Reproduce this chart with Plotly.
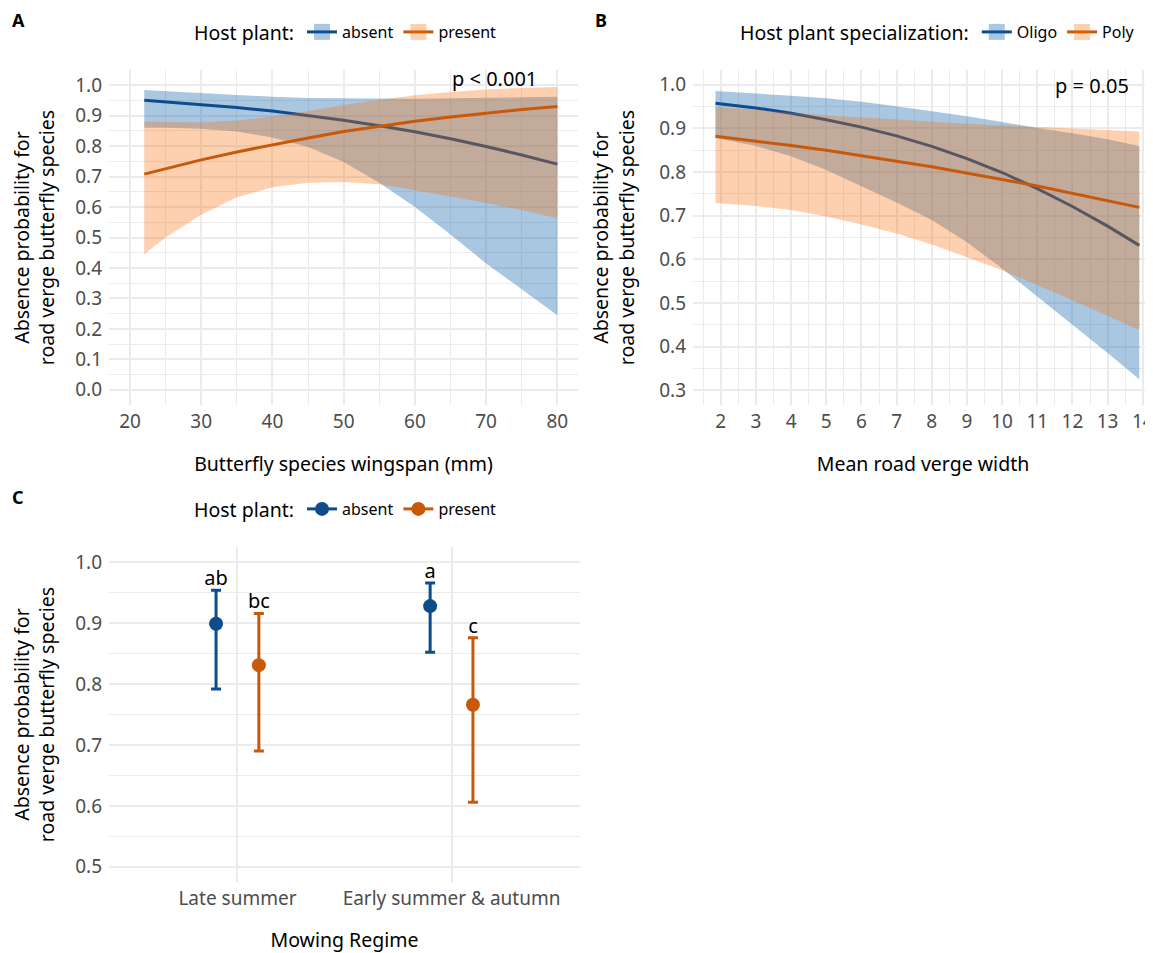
import plotly.graph_objects as go

# ---------------- Panel A: wingspan ----------------
a_x = [22, 25, 30, 35, 40, 45, 50, 55, 60, 65, 70, 75, 80]
absent_fit = [0.951, 0.946, 0.937, 0.927, 0.915, 0.901, 0.885, 0.867, 0.847, 0.824, 0.799, 0.771, 0.741]
absent_hi = [0.984, 0.980, 0.975, 0.968, 0.962, 0.958, 0.957, 0.956, 0.956, 0.957, 0.958, 0.960, 0.962]
absent_lo = [0.860, 0.860, 0.857, 0.848, 0.828, 0.797, 0.748, 0.680, 0.600, 0.510, 0.415, 0.330, 0.245]
present_fit = [0.708, 0.726, 0.755, 0.781, 0.805, 0.827, 0.848, 0.866, 0.882, 0.896, 0.909, 0.920, 0.930]
present_hi = [0.881, 0.879, 0.878, 0.884, 0.897, 0.915, 0.935, 0.952, 0.967, 0.978, 0.986, 0.991, 0.994]
present_lo = [0.445, 0.500, 0.575, 0.632, 0.665, 0.680, 0.682, 0.675, 0.655, 0.635, 0.613, 0.590, 0.563]

# ---------------- Panel B: road verge width ----------------
b_x = [1.85, 3, 4, 5, 6, 7, 8, 9, 10, 11, 12, 13, 13.9]
oligo_fit = [0.958, 0.947, 0.935, 0.920, 0.903, 0.883, 0.859, 0.831, 0.799, 0.762, 0.721, 0.676, 0.632]
oligo_hi = [0.986, 0.981, 0.975, 0.969, 0.961, 0.951, 0.940, 0.928, 0.915, 0.901, 0.889, 0.875, 0.860]
oligo_lo = [0.878, 0.860, 0.836, 0.805, 0.768, 0.730, 0.690, 0.639, 0.579, 0.514, 0.450, 0.385, 0.325]
poly_fit = [0.882, 0.871, 0.861, 0.850, 0.838, 0.825, 0.812, 0.798, 0.783, 0.768, 0.751, 0.734, 0.719]
poly_hi = [0.950, 0.942, 0.936, 0.930, 0.925, 0.920, 0.915, 0.911, 0.907, 0.903, 0.899, 0.896, 0.893]
poly_lo = [0.729, 0.722, 0.713, 0.698, 0.680, 0.659, 0.634, 0.605, 0.575, 0.541, 0.506, 0.471, 0.438]

# ---------------- Panel C: mowing regime ----------------
regimes = ["Late summer", "Early summer & autumn"]
c_absent_est = [0.899, 0.928]
c_absent_low = [0.792, 0.852]
c_absent_up = [0.954, 0.966]
c_absent_letters = ["ab", "a"]
c_present_est = [0.831, 0.766]
c_present_low = [0.690, 0.606]
c_present_up = [0.916, 0.876]
c_present_letters = ["bc", "c"]

A_YTICKS = [0, 0.1, 0.2, 0.3, 0.4, 0.5, 0.6, 0.7, 0.8, 0.9, 1.0]
A_XTICKS = [20, 30, 40, 50, 60, 70, 80]
B_YTICKS = [0.3, 0.4, 0.5, 0.6, 0.7, 0.8, 0.9, 1.0]
B_XTICKS = list(range(2, 15))
C_YTICKS = [0.5, 0.6, 0.7, 0.8, 0.9, 1.0]

# ---------------- styling ----------------
BLUE = "#0C4C8A"
ORANGE = "#C8580A"
BLUE_FILL = "rgba(10,95,165,0.35)"
ORANGE_FILL = "rgba(250,112,10,0.32)"
GRID = "#EBEBEB"
TICK_COL = "#4D4D4D"
FONT = "Noto Sans"
OFF = 8                      # page body margin
W, H = 1153 - OFF, 953 - OFF


def px_x(p):
    return (p - OFF) / W


def px_y(p):
    return 1 - (p - OFF) / H


fig = go.Figure()


def ribbon(x, lo, hi, fill, xa, ya):
    fig.add_trace(go.Scatter(
        x=list(x) + list(x)[::-1], y=list(hi) + list(lo)[::-1],
        fill="toself", fillcolor=fill, mode="lines", line=dict(width=0),
        hoverinfo="skip", showlegend=False, xaxis=xa, yaxis=ya))


def line(x, y, color, xa, ya):
    fig.add_trace(go.Scatter(
        x=x, y=y, mode="lines", line=dict(color=color, width=3),
        hoverinfo="skip", showlegend=False, xaxis=xa, yaxis=ya))


def ribbon_key(name, color, fill, legend):
    fig.add_trace(go.Scatter(
        x=[None], y=[None], mode="lines+markers", name=name,
        line=dict(color=color, width=3),
        marker=dict(symbol="square", size=16, color=fill),
        legend=legend, showlegend=True))


# Panel A
ribbon(a_x, absent_lo, absent_hi, BLUE_FILL, "x", "y")
line(a_x, absent_fit, BLUE, "x", "y")
ribbon(a_x, present_lo, present_hi, ORANGE_FILL, "x", "y")
line(a_x, present_fit, ORANGE, "x", "y")
ribbon_key("absent", BLUE, BLUE_FILL, "legend")
ribbon_key("present", ORANGE, ORANGE_FILL, "legend")

# Panel B
ribbon(b_x, oligo_lo, oligo_hi, BLUE_FILL, "x2", "y2")
line(b_x, oligo_fit, BLUE, "x2", "y2")
ribbon(b_x, poly_lo, poly_hi, ORANGE_FILL, "x2", "y2")
line(b_x, poly_fit, ORANGE, "x2", "y2")
ribbon_key("Oligo", BLUE, BLUE_FILL, "legend2")
ribbon_key("Poly", ORANGE, ORANGE_FILL, "legend2")

# Panel C (dodged point ranges)
DODGE = 0.1
c_pos = [i + 1 for i in range(len(regimes))]
for est, low, up, letters, color, name, off in [
    (c_absent_est, c_absent_low, c_absent_up, c_absent_letters, BLUE, "absent", -DODGE),
    (c_present_est, c_present_low, c_present_up, c_present_letters, ORANGE, "present", DODGE),
]:
    xs = [p + off for p in c_pos]
    fig.add_trace(go.Scatter(
        x=xs, y=est, mode="markers",
        marker=dict(color=color, size=14),
        error_y=dict(type="data", symmetric=False,
                     array=[u - e for u, e in zip(up, est)],
                     arrayminus=[e - l for e, l in zip(est, low)],
                     color=color, thickness=3, width=5),
        hoverinfo="skip", showlegend=False, xaxis="x3", yaxis="y3"))
    fig.add_trace(go.Scatter(
        x=xs, y=up, mode="text", text=letters, textposition="top center",
        textfont=dict(family=FONT, size=20, color="black"),
        hoverinfo="skip", showlegend=False, xaxis="x3", yaxis="y3"))
    fig.add_trace(go.Scatter(
        x=[None], y=[None], mode="lines+markers", name=name,
        line=dict(color=color, width=3),
        marker=dict(color=color, size=14),
        legend="legend3", showlegend=True))

# ---------------- axes ----------------
tickfont = dict(family=FONT, size=19, color=TICK_COL)
titlefont = dict(family=FONT, size=19.5, color="black")


def xaxis_cfg(domain, rng, tickvals, title, anchor, minor_dtick=None, ticktext=None, standoff=24):
    d = dict(domain=domain, range=rng, tickmode="array", tickvals=tickvals,
             showgrid=True, gridcolor=GRID, gridwidth=1.8, zeroline=False,
             showline=False, ticks="", tickfont=tickfont, anchor=anchor,
             ticklabelstandoff=3, ticklabeloverflow="allow", fixedrange=True,
             title=dict(text=title, font=titlefont, standoff=standoff))
    if ticktext is not None:
        d["ticktext"] = ticktext
    if minor_dtick is not None:
        d["minor"] = dict(dtick=minor_dtick, tick0=0, showgrid=True,
                          gridcolor=GRID, gridwidth=0.9, ticks="")
    return d


YTITLE = "Absence probability for<br>road verge butterfly species"


def yaxis_cfg(domain, rng, tickvals, anchor, minor_dtick=0.05):
    return dict(domain=domain, range=rng, tickmode="array", tickvals=tickvals,
                tickformat=".1f", showgrid=True, gridcolor=GRID, gridwidth=1.8,
                zeroline=False, showline=False, ticks="", tickfont=tickfont,
                anchor=anchor, ticklabelstandoff=6, fixedrange=True,
                minor=dict(dtick=minor_dtick, tick0=0, showgrid=True,
                           gridcolor=GRID, gridwidth=0.9, ticks=""),
                title=dict(text=YTITLE, font=titlefont, standoff=19))


top_dom = [px_y(405), px_y(70)]
bot_dom = [px_y(882), px_y(547)]

legend_common = dict(orientation="h", xanchor="center", yanchor="middle",
                     bgcolor="rgba(0,0,0,0)", font=dict(family=FONT, size=16, color="black"),
                     itemwidth=30, tracegroupgap=0)

panel_font = dict(family=FONT, size=18, color="black")
fig.update_layout(
    width=W, height=H,
    margin=dict(l=0, r=0, t=0, b=0),
    paper_bgcolor="white", plot_bgcolor="white",
    font=dict(family=FONT, color="black"),
    xaxis=xaxis_cfg([px_x(109), px_x(578)], [17.05, 82.9], A_XTICKS,
                    "Butterfly species wingspan (mm)", "y", minor_dtick=5),
    yaxis=yaxis_cfg(top_dom, [-0.05, 1.05], A_YTICKS, "x"),
    xaxis2=xaxis_cfg([px_x(693), 1.0], [1.21, 14.29], B_XTICKS,
                     "Mean road verge width", "y2", minor_dtick=0.5),
    yaxis2=yaxis_cfg(top_dom, [0.266, 1.034], B_YTICKS, "x2"),
    xaxis3=xaxis_cfg([px_x(109), px_x(580)], [0.4, 2.6], c_pos,
                     "Mowing Regime", "y3", ticktext=regimes),
    yaxis3=yaxis_cfg(bot_dom, [0.475, 1.025], C_YTICKS, "x3"),
    legend=dict(legend_common, x=px_x(347), y=px_y(33),
                title=dict(text="Host plant:", side="left", font=titlefont)),
    legend2=dict(legend_common, x=px_x(939), y=px_y(33),
                 title=dict(text="Host plant specialization:", side="left", font=titlefont)),
    legend3=dict(legend_common, x=px_x(347), y=px_y(510),
                 title=dict(text="Host plant:", side="left", font=titlefont)),
    annotations=[
        dict(text="<b>A</b>", x=px_x(18.5), y=px_y(20), xref="paper", yref="paper",
             xanchor="center", yanchor="middle", showarrow=False, font=panel_font),
        dict(text="<b>B</b>", x=px_x(601), y=px_y(20), xref="paper", yref="paper",
             xanchor="center", yanchor="middle", showarrow=False, font=panel_font),
        dict(text="<b>C</b>", x=px_x(18), y=px_y(497), xref="paper", yref="paper",
             xanchor="center", yanchor="middle", showarrow=False, font=panel_font),
        dict(text="p < 0.001", x=71.2, y=1.021, xref="x", yref="y", showarrow=False,
             xanchor="center", yanchor="middle", font=dict(family=FONT, size=20, color="black")),
        dict(text="p = 0.05", x=12.56, y=0.998, xref="x2", yref="y2", showarrow=False,
             xanchor="center", yanchor="middle", font=dict(family=FONT, size=20, color="black")),
    ],
)

fig.write_html("out.html")
